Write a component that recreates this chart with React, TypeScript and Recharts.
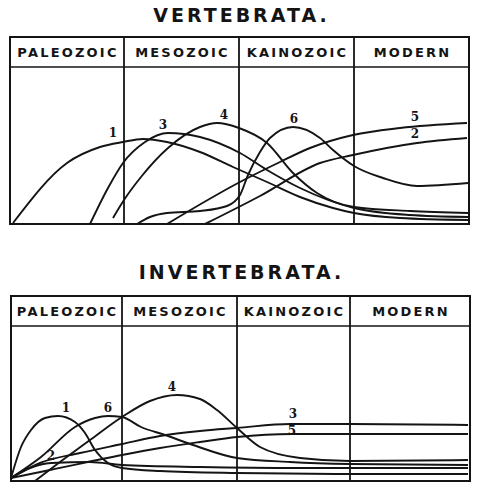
import React from 'react';
import {
  LineChart,
  Line,
  XAxis,
  YAxis,
  ReferenceLine,
  ReferenceArea,
  ReferenceDot,
} from 'recharts';

const eras = ['PALEOZOIC', 'MESOZOIC', 'KAINOZOIC', 'MODERN'];

// Vertebrata: x = time along the eras, y = abundance (header band sits above 157)
const vertEdges = [0, 114, 229, 344, 459];
const vertHeader = 157;
const vertTop = 187;

const vert1 = [[3, 1], [57, 61], [90, 77], [113, 82], [133, 85], [157, 82], [190, 72], [223, 57], [257, 42], [290, 27], [323, 16], [344, 11], [390, 6], [458, 4]];
const vert2 = [[195, 0], [250, 28], [310, 61], [343, 69], [407, 81], [457, 86]];
const vert3 = [[80, 0], [98, 36], [113, 61], [135, 82], [158, 91], [190, 87], [230, 71], [257, 54], [290, 36], [344, 16], [400, 9], [458, 7]];
const vert4 = [[103, 6], [114, 24], [131, 47], [158, 76], [190, 97], [207, 101], [229, 96], [257, 81], [283, 51], [307, 31], [344, 17], [400, 13], [458, 11]];
const vert5 = [[157, 0], [230, 42], [270, 62], [300, 76], [343, 89], [390, 96], [457, 101]];
const vert6 = [[127, 0], [140, 7], [157, 11], [190, 13], [217, 18], [230, 29], [238, 49], [250, 72], [260, 86], [283, 97], [310, 86], [323, 74], [344, 58], [373, 46], [407, 38], [458, 41]];

const vertLabels = [
  { text: '1', x: 103, y: 91 },
  { text: '3', x: 153, y: 99 },
  { text: '4', x: 214, y: 109 },
  { text: '6', x: 284, y: 105 },
  { text: '5', x: 405, y: 107 },
  { text: '2', x: 405, y: 90 },
];

// Invertebrata
const invEdges = [0, 111, 226, 339, 459];
const invHeader = 155;
const invTop = 185;

const inv1 = [[0, 3], [10, 34], [20, 51], [34, 63], [47, 65], [64, 59], [74, 48], [84, 31], [97, 18], [111, 13], [149, 10], [226, 8], [339, 7], [457, 7]];
const inv2 = [[0, 3], [19, 13], [40, 18], [79, 19], [111, 16], [189, 14], [289, 13], [457, 13]];
const inv3 = [[0, 3], [29, 18], [69, 28], [111, 37], [149, 45], [189, 50], [226, 53], [279, 57], [339, 57], [457, 56]];
const inv4 = [[24, 0], [49, 19], [79, 41], [111, 64], [139, 80], [166, 86], [189, 82], [206, 71], [226, 53], [249, 34], [289, 23], [339, 20], [457, 21]];
const inv5 = [[0, 3], [39, 11], [111, 26], [149, 33], [189, 39], [226, 44], [282, 47], [339, 47], [457, 47]];
const inv6 = [[0, 3], [30, 24], [64, 54], [84, 63], [97, 65], [111, 64], [130, 54], [154, 46], [182, 36], [226, 23], [279, 19], [339, 17], [457, 16]];

const invLabels = [
  { text: '1', x: 55, y: 73 },
  { text: '6', x: 97, y: 73 },
  { text: '2', x: 40, y: 25 },
  { text: '4', x: 161, y: 94 },
  { text: '3', x: 282, y: 67 },
  { text: '5', x: 281, y: 50 },
];

const ink = '#141414';

const toPoints = (arr: number[][]) => arr.map(([x, y]) => ({ x, y }));

type PanelProps = {
  title: string;
  edges: number[];
  header: number;
  top: number;
  series: number[][][];
  labels: { text: string; x: number; y: number }[];
  height: number;
  margin: { top: number; right: number; bottom: number; left: number };
  titleTop: number;
};

function Panel({ title, edges, header, top, series, labels, height, margin, titleTop }: PanelProps) {
  const end = edges[edges.length - 1];
  return (
    <div style={{ position: 'relative', width: 477, height }}>
      <div
        style={{
          position: 'absolute',
          top: titleTop,
          left: 0,
          width: 477,
          textAlign: 'center',
          fontFamily: '"DejaVu Sans", sans-serif',
          fontWeight: 'bold',
          fontSize: 19,
          lineHeight: '22px',
          letterSpacing: 3,
          paddingLeft: 6,
          boxSizing: 'border-box',
          color: ink,
        }}
      >
        {title}
      </div>
      <LineChart width={477} height={height} margin={margin}>
        <XAxis type="number" dataKey="x" domain={[0, end]} hide allowDataOverflow />
        <YAxis type="number" dataKey="y" domain={[0, top]} hide allowDataOverflow />
        {eras.map((era, i) => (
          <ReferenceArea
            key={era}
            x1={edges[i]}
            x2={edges[i + 1]}
            y1={header}
            y2={top}
            fill="none"
            stroke="none"
            label={{
              value: era,
              position: 'center',
              fill: ink,
              fontSize: 13,
              fontWeight: 'bold',
              fontFamily: '"DejaVu Sans", sans-serif',
              letterSpacing: 2.2,
              dx: 1,
            }}
          />
        ))}
        <ReferenceLine y={header} stroke={ink} strokeWidth={1.6} />
        {edges.slice(1, -1).map((x) => (
          <ReferenceLine key={x} x={x} stroke={ink} strokeWidth={1.8} />
        ))}
        <ReferenceArea x1={0} x2={end} y1={0} y2={top} fill="none" stroke={ink} strokeWidth={2} />
        {series.map((s, i) => (
          <Line
            key={i}
            data={toPoints(s)}
            dataKey="y"
            type="monotone"
            dot={false}
            stroke={ink}
            strokeWidth={1.9}
            isAnimationActive={false}
          />
        ))}
        {labels.map((l) => (
          <ReferenceDot
            key={l.text}
            x={l.x}
            y={l.y}
            r={0}
            fill="none"
            stroke="none"
            label={{
              value: l.text,
              position: 'center',
              fill: ink,
              fontSize: 12,
              fontWeight: 'bold',
              fontFamily: '"DejaVu Serif", serif',
            }}
          />
        ))}
      </LineChart>
    </div>
  );
}

export default function App() {
  return (
    <div style={{ position: 'absolute', left: 0, top: 0, width: 477, height: 488, background: '#fff' }}>
      <Panel
        title="VERTEBRATA."
        edges={vertEdges}
        header={vertHeader}
        top={vertTop}
        series={[vert1, vert2, vert3, vert4, vert5, vert6]}
        labels={vertLabels}
        height={244}
        margin={{ top: 37, right: 8, bottom: 20, left: 10 }}
        titleTop={4}
      />
      <Panel
        title="INVERTEBRATA."
        edges={invEdges}
        header={invHeader}
        top={invTop}
        series={[inv1, inv2, inv3, inv4, inv5, inv6]}
        labels={invLabels}
        height={244}
        margin={{ top: 52, right: 7, bottom: 7, left: 11 }}
        titleTop={17}
      />
    </div>
  );
}
